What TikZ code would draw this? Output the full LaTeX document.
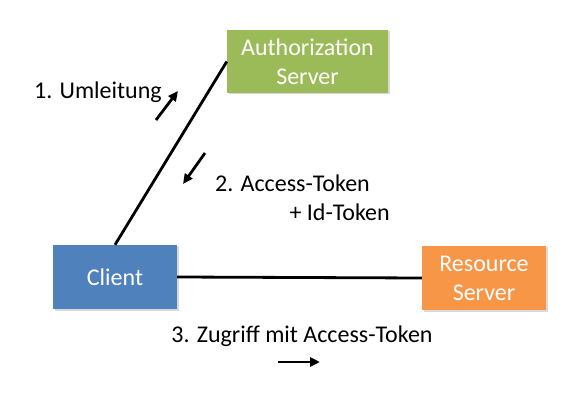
\documentclass[tikz,border=0pt]{standalone}
\usepackage{fontspec}
\setmainfont{Carlito}
\usetikzlibrary{arrows.meta,shadows}
\definecolor{agreen}{HTML}{9BBB59}
\definecolor{ablue}{HTML}{4F81BD}
\definecolor{aorange}{HTML}{F79646}
\begin{document}
\begin{tikzpicture}[x=1pt,y=1pt,
  box/.style={draw=none,text=white,font=\fontsize{24}{29}\selectfont,align=center,inner sep=0pt,
    drop shadow={shadow xshift=1.5pt,shadow yshift=-1.5pt,fill=black,opacity=0.15}},
  conn/.style={line width=2.8pt,black},
  flow/.style={line width=2.8pt,black,-{Triangle[length=10pt,width=9pt]}},
  lbl/.style={font=\fontsize{24}{29}\selectfont,inner sep=0pt}]
\useasboundingbox (0,0) rectangle (587,405);
\node[box,fill=agreen,minimum width=161pt,minimum height=63pt] (auth) at (307.5,343.5) {Authorization\\Server};
\node[box,fill=ablue,minimum width=124pt,minimum height=64pt] (client) at (115,128) {Client};
\node[box,fill=aorange,minimum width=124pt,minimum height=64pt] (res) at (484,127) {Resource\\Server};
\draw[conn] (client.north) -- (auth.west);
\draw[conn] (client.east) -- (res.west);
\coordinate (a1s) at (156,285);
\coordinate (a1e) at (178,314);
\coordinate (a2s) at (205,252);
\coordinate (a2e) at (183,221);
\coordinate (a3s) at (278,43);
\coordinate (a3e) at (320,43);
\draw[flow] (a1s) -- (a1e);
\draw[flow] (a2s) -- (a2e);
\draw[flow] (a3s) -- (a3e);
\node[lbl,anchor=west] (l1) at (34,313) {1. Umleitung};
\node[lbl,anchor=west] (l2) at (215,222) {2. Access-Token};
\node[lbl,anchor=east] (l2b) at (390,193) {+ Id-Token};
\node[lbl] (l3) at (302,69) {3. Zugriff mit Access-Token};
\end{tikzpicture}
\end{document}
